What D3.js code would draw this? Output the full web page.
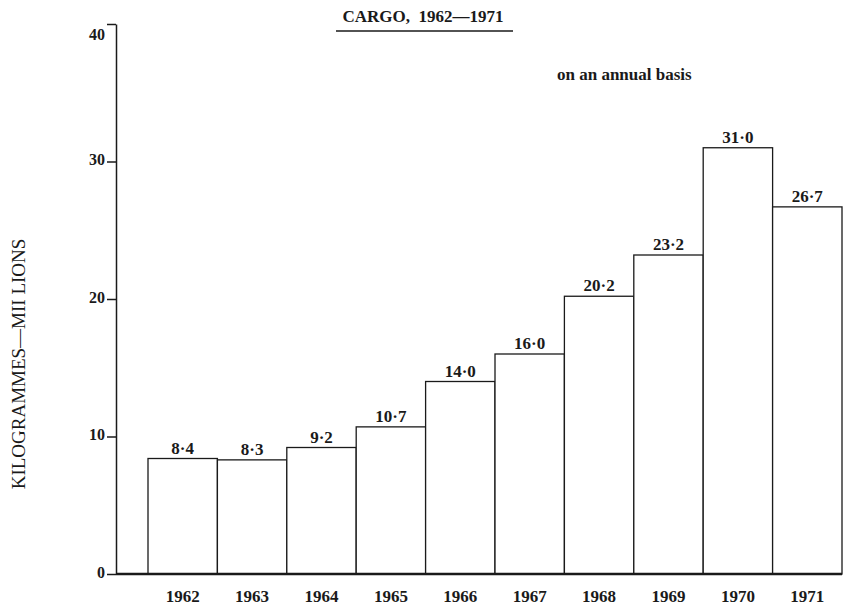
<!DOCTYPE html>
<html><head><meta charset="utf-8">
<script src="https://cdn.jsdelivr.net/npm/d3@7"></script>
<style>
body{margin:0;background:#fff;}
text{font-family:"Liberation Serif","Times New Roman",serif;font-weight:bold;fill:#1a1a1a;}
</style></head>
<body><svg id="c" width="844" height="605"></svg>
<script>
const years = ["1962","1963","1964","1965","1966","1967","1968","1969","1970","1971"];
const cargo = [8.4, 8.3, 9.2, 10.7, 14.0, 16.0, 20.2, 23.2, 31.0, 26.7];
const valueLabels = ["8·4","8·3","9·2","10·7","14·0","16·0","20·2","23·2","31·0","26·7"];
const yTicks = [0, 10, 20, 30, 40];

const svg = d3.select("#c");
const ink = "#1a1a1a";
const y = d3.scaleLinear().domain([0, 40]).range([574, 24]);
const x = d3.scaleBand().domain(years).range([148, 842]).padding(0);

// bars
svg.append("g").selectAll("rect").data(years).join("rect")
  .attr("x", d => x(d)).attr("y", (d,i) => y(cargo[i]))
  .attr("width", x.bandwidth()).attr("height", (d,i) => y(0) - y(cargo[i]))
  .attr("fill", "#fff").attr("stroke", ink).attr("stroke-width", 1.3);

// y axis
const yAxis = d3.axisLeft(y).tickValues(yTicks).tickSize(9).tickPadding(2).tickSizeOuter(0);
const ga = svg.append("g").attr("transform", "translate(116,0)").call(yAxis);
ga.select(".domain").attr("stroke", ink).attr("stroke-width", 1.5);
ga.selectAll(".tick line").attr("stroke", ink).attr("stroke-width", 1.5);
ga.selectAll(".tick text").attr("font-size", 16)
  .attr("dy", d => d === 40 ? "0.95em" : "0.2em")
  .style("font-family", '"Liberation Serif",serif').style("font-weight", "bold").attr("fill", ink);

// baseline (x axis)
svg.append("line").attr("x1", 116).attr("x2", 842).attr("y1", y(0)).attr("y2", y(0))
  .attr("stroke", ink).attr("stroke-width", 2.5);

// x labels
svg.append("g").selectAll("text").data(years).join("text")
  .attr("x", d => x(d) + x.bandwidth()/2).attr("y", 602)
  .attr("text-anchor", "middle").attr("font-size", 17).text(d => d);

// value labels
svg.append("g").selectAll("text").data(years).join("text")
  .attr("x", d => x(d) + x.bandwidth()/2).attr("y", (d,i) => y(cargo[i]) - 5)
  .attr("text-anchor", "middle").attr("font-size", 17).text((d,i) => valueLabels[i]);

// title
svg.append("text").attr("x", 423).attr("y", 22).attr("text-anchor", "middle")
  .attr("font-size", 17).attr("xml:space", "preserve").text("CARGO,  1962—1971");
svg.append("line").attr("x1", 336).attr("x2", 513).attr("y1", 31).attr("y2", 31)
  .attr("stroke", ink).attr("stroke-width", 1.6);

svg.append("text").attr("x", 557).attr("y", 80).attr("font-size", 17).text("on an annual basis");

// y label
svg.append("text").attr("transform", "translate(25,364) rotate(-90)")
  .attr("text-anchor", "middle").attr("font-size", 19).style("font-weight", "normal")
  .text("KILOGRAMMES—MII LIONS");
</script></body></html>
